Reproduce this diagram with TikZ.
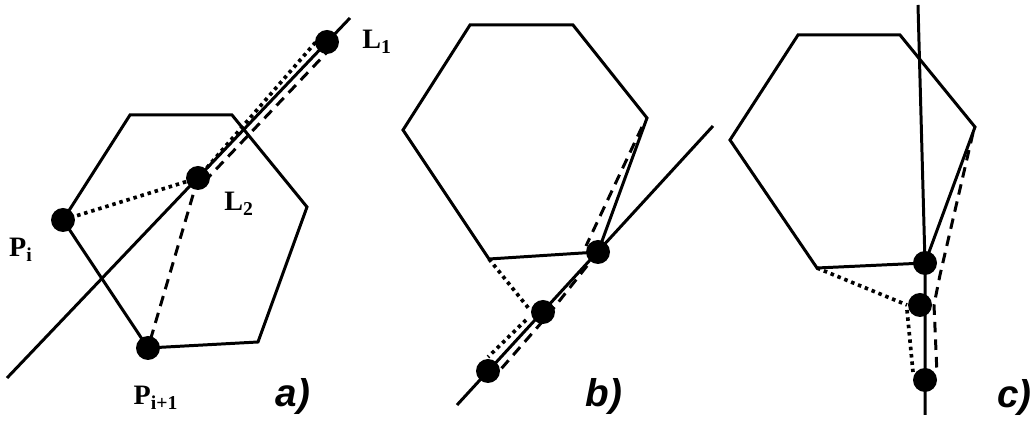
\documentclass[tikz,border=0pt]{standalone}
\usepackage{fontspec}
\setmainfont{Liberation Serif}
\newfontfamily\tagfont{Liberation Sans}
\begin{document}
\begin{tikzpicture}[x=0.02cm,y=-0.02cm,
  edge/.style={line width=1.7pt, line join=miter},
  pt/.style={circle, fill=black, inner sep=0pt, minimum size=0.48cm},
  dotln/.style={line width=2.1pt, dash pattern=on 2pt off 2.2pt},
  dashln/.style={line width=1.7pt, dash pattern=on 6pt off 4pt},
  lbl/.style={font=\fontsize{16}{18}\selectfont\bfseries, inner sep=0pt},
  tag/.style={font=\tagfont\fontsize{22}{24}\selectfont\bfseries\itshape, inner sep=0pt}]
\path[use as bounding box] (0,0) rectangle (1032,421);
\clip (0,0) rectangle (1032,421);
\fill[white] (0,0) rectangle (1032,421);

% ---------- panel a ----------
\coordinate (a1) at (130,115);
\coordinate (a2) at (232,115);
\coordinate (a3) at (307,207);
\coordinate (a4) at (258,342);
\coordinate (Pi) at (63,220);
\coordinate (Pj) at (148,348);
\coordinate (L2) at (198,178);
\coordinate (L1) at (327,42);
\coordinate (la0) at (7,378);
\coordinate (la1) at (350,18);
\draw[edge] (Pi) -- (a1) -- (a2) -- (a3) -- (a4) -- (Pj) -- cycle;
\draw[edge] (la0) -- (la1);
\draw[dotln] (Pi) -- (L2) -- ([shift={(-6,-6)}]L1);
\draw[dashln] (L2) -- (Pj);
\draw[dashln] ([shift={(6,4)}]L2) -- ([shift={(5,5)}]L1);
\node[pt] (nPi) at (Pi) {};
\node[pt] (nPj) at (Pj) {};
\node[pt] (nL2) at (L2) {};
\node[pt] (nL1) at (L1) {};
\node[lbl] (tL1) at (377,42) {L\textsubscript{1}};
\node[lbl] (tL2) at (239,204) {L\textsubscript{2}};
\node[lbl] (tPi) at (21,250) {P\textsubscript{i}};
\node[lbl] (tPj) at (156,398) {P\textsubscript{i+1}};
\node[tag] (ta) at (293,397) {a)};

% ---------- panel b ----------
\coordinate (b1) at (470,25);
\coordinate (b2) at (573,25);
\coordinate (b3) at (647,118);
\coordinate (B1) at (598,252);
\coordinate (b5) at (489,259);
\coordinate (b6) at (403,130);
\coordinate (B2) at (543,312);
\coordinate (B3) at (488,371);
\coordinate (lb0) at (457,405);
\coordinate (lb1) at (713,126);
\draw[edge] (b1) -- (b2) -- (b3) -- (B1) -- (b5) -- (b6) -- cycle;
\draw[edge] (lb0) -- (lb1);
\draw[dotln] (b5) -- ([shift={(-13,-2)}]B2);
\draw[dotln] ([shift={(-17,8)}]B2) -- ([shift={(0,-14)}]B3);
\draw[dashln] ([shift={(-5,9)}]b3) -- ([shift={(-12,-6)}]B1);
\draw[dashln] (B1) -- ([shift={(6,2)}]B2) -- ([shift={(13,-2)}]B3);
\node[pt] (nB1) at (B1) {};
\node[pt] (nB2) at (B2) {};
\node[pt] (nB3) at (B3) {};
\node[tag] (tb) at (604,397) {b)};

% ---------- panel c ----------
\coordinate (c1) at (798,35);
\coordinate (c2) at (900,35);
\coordinate (c3) at (975,127);
\coordinate (C1) at (925,263);
\coordinate (c5) at (817,268);
\coordinate (c6) at (730,140);
\coordinate (C2) at (920,305);
\coordinate (C3) at (925,380);
\coordinate (lc0) at (918,5);
\coordinate (lc1) at (925,415);
\draw[edge] (c1) -- (c2) -- (c3) -- (C1) -- (c5) -- (c6) -- cycle;
\draw[edge] (lc0) -- (C1) -- (lc1);
\draw[dotln] (c5) -- ([shift={(-13,0)}]C2);
\draw[dotln] ([shift={(-13,5)}]C2) -- ([shift={(-12,-8)}]C3);
\draw[dashln] ([shift={(-2,6)}]c3) -- ([shift={(15,12)}]C1) -- ([shift={(14,0)}]C2) -- ([shift={(12,-6)}]C3);
\node[pt] (nC1) at (C1) {};
\node[pt] (nC2) at (C2) {};
\node[pt] (nC3) at (C3) {};
\node[tag, anchor=west] (tc) at (997,398) {c)};
\end{tikzpicture}
\end{document}
